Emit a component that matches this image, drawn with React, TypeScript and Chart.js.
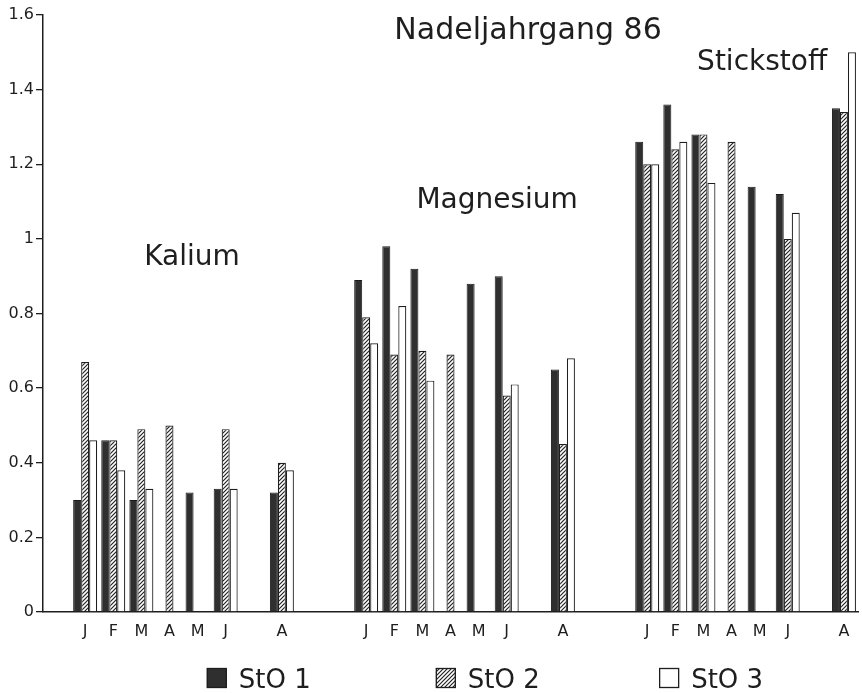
import React, { useEffect, useRef } from 'react';
import { Chart, registerables } from 'chart.js';

Chart.register(...registerables);

// Months Jan..Aug; '' = July (no sampling)
const MONTHS = ['J', 'F', 'M', 'A', 'M', 'J', '', 'A'];

const kaliumSto1 = [0.30, 0.46, 0.30, null, 0.32, 0.33, null, 0.32];
const kaliumSto2 = [0.67, 0.46, 0.49, 0.50, null, 0.49, null, 0.40];
const kaliumSto3 = [0.46, 0.38, 0.33, null, null, 0.33, null, 0.38];

const magnesiumSto1 = [0.89, 0.98, 0.92, null, 0.88, 0.90, null, 0.65];
const magnesiumSto2 = [0.79, 0.69, 0.70, 0.69, null, 0.58, null, 0.45];
const magnesiumSto3 = [0.72, 0.82, 0.62, null, null, 0.61, null, 0.68];

const stickstoffSto1 = [1.26, 1.36, 1.28, null, 1.14, 1.12, null, 1.35];
const stickstoffSto2 = [1.20, 1.24, 1.28, 1.26, null, 1.00, null, 1.34];
const stickstoffSto3 = [1.20, 1.26, 1.15, null, null, 1.07, null, 1.50];

const SERIES_NAMES = ['StO 1', 'StO 2', 'StO 3'];
const Y_MIN = 0;
const Y_MAX = 1.6;
const Y_STEP = 0.2;

const TITLE = 'Nadeljahrgang 86';
const GROUP_NAMES = ['Kalium', 'Magnesium', 'Stickstoff'];

const FONT = '"DejaVu Sans", "Liberation Sans", sans-serif';
const INK = '#1e1e1e';

function joinGroups<T>(a: T[], b: T[], c: T[], blank: T): T[] {
  return [blank, ...a, blank, blank, ...b, blank, blank, ...c];
}

const LABELS = joinGroups(MONTHS, MONTHS, MONTHS, '');

function makeHatch(): CanvasPattern | string {
  const c = document.createElement('canvas');
  const s = 4;
  c.width = s;
  c.height = s;
  const g = c.getContext('2d');
  if (!g) return '#888';
  g.fillStyle = '#ffffff';
  g.fillRect(0, 0, s, s);
  g.strokeStyle = '#222';
  g.lineWidth = 1.2;
  g.beginPath();
  g.moveTo(-1, s + 1);
  g.lineTo(s + 1, -1);
  g.moveTo(-1, 1);
  g.lineTo(1, -1);
  g.moveTo(s - 1, s + 1);
  g.lineTo(s + 1, s - 1);
  g.stroke();
  const p = g.createPattern(c, 'repeat');
  return p || '#888';
}

export default function App() {
  const ref = useRef<HTMLCanvasElement | null>(null);

  useEffect(() => {
    if (!ref.current) return;
    const hatch = makeHatch();

    const annotations = [
      { text: TITLE, at: 16.76, value: 1.536, size: 30 },
      { text: GROUP_NAMES[0], at: 4.8, value: 0.93, size: 28 },
      { text: GROUP_NAMES[1], at: 15.66, value: 1.083, size: 28 },
      { text: GROUP_NAMES[2], at: 25.09, value: 1.453, size: 28 },
    ];

    const textPlugin = {
      id: 'groupTexts',
      afterDraw(chart: any) {
        const { ctx } = chart;
        const xs = chart.scales.x;
        const ys = chart.scales.y;
        ctx.save();
        ctx.fillStyle = INK;
        ctx.textAlign = 'center';
        ctx.textBaseline = 'alphabetic';
        annotations.forEach((a) => {
          ctx.font = `${a.size}px ${FONT}`;
          ctx.fillText(a.text, xs.getPixelForValue(a.at), ys.getPixelForValue(a.value));
        });
        ctx.restore();
      },
    };

    const legendFractions = [0.201, 0.482, 0.756];
    const legendPlugin = {
      id: 'bottomLegend',
      afterDraw(chart: any) {
        const { ctx, chartArea } = chart;
        const box = 20;
        const top = chart.height - 25;
        ctx.save();
        ctx.font = `26px ${FONT}`;
        ctx.textBaseline = 'alphabetic';
        ctx.textAlign = 'left';
        chart.data.datasets.forEach((ds: any, i: number) => {
          const x = chartArea.left + legendFractions[i] * (chartArea.right - chartArea.left);
          ctx.fillStyle = ds.backgroundColor;
          ctx.fillRect(x, top, box, box);
          ctx.strokeStyle = INK;
          ctx.lineWidth = 1.3;
          ctx.strokeRect(x + 0.5, top + 0.5, box - 1, box - 1);
          ctx.fillStyle = INK;
          ctx.fillText(ds.label, x + box + 12, top + box);
        });
        ctx.restore();
      },
    };

    const chart = new Chart(ref.current, {
      type: 'bar',
      data: {
        labels: LABELS,
        datasets: [
          {
            label: SERIES_NAMES[0],
            data: joinGroups(kaliumSto1, magnesiumSto1, stickstoffSto1, null),
            backgroundColor: '#2f2f2f',
            borderColor: '#1a1a1a',
            borderWidth: 1,
          },
          {
            label: SERIES_NAMES[1],
            data: joinGroups(kaliumSto2, magnesiumSto2, stickstoffSto2, null),
            backgroundColor: hatch as any,
            borderColor: INK,
            borderWidth: 1.2,
          },
          {
            label: SERIES_NAMES[2],
            data: joinGroups(kaliumSto3, magnesiumSto3, stickstoffSto3, null),
            backgroundColor: '#ffffff',
            borderColor: INK,
            borderWidth: 1.2,
          },
        ],
      },
      options: {
        responsive: false,
        animation: false,
        devicePixelRatio: 1,
        layout: { padding: { top: 15, right: 4, left: 0, bottom: 0 } },
        datasets: {
          bar: {
            categoryPercentage: 0.854,
            barPercentage: 1,
            borderSkipped: 'start',
          },
        },
        plugins: {
          legend: { display: false },
          tooltip: { enabled: false },
          title: { display: false },
        },
        scales: {
          x: {
            type: 'category',
            offset: true,
            grid: { display: false, drawTicks: false },
            border: { display: true, color: INK, width: 1.5 },
            ticks: {
              autoSkip: false,
              maxRotation: 0,
              minRotation: 0,
              padding: 10,
              color: INK,
              font: { family: FONT, size: 16 },
            },
            afterFit(scale: any) {
              scale.height = 81;
            },
          },
          y: {
            min: Y_MIN,
            max: Y_MAX,
            ticks: {
              stepSize: Y_STEP,
              padding: 2,
              color: INK,
              font: { family: FONT, size: 16 },
              callback: (value: any) => String(Number(Number(value).toFixed(1))),
            },
            grid: {
              display: true,
              drawOnChartArea: false,
              drawTicks: true,
              tickLength: 7,
              color: INK,
              lineWidth: 1.3,
            },
            border: { display: true, color: INK, width: 1.5 },
            afterFit(scale: any) {
              scale.width = 43;
            },
          },
        },
      },
      plugins: [textPlugin, legendPlugin],
    });

    return () => chart.destroy();
  }, []);

  return (
    <div
      style={{
        position: 'fixed',
        left: 0,
        top: 0,
        width: 862,
        height: 693,
        background: '#ffffff',
      }}
    >
      <canvas ref={ref} width={862} height={693} style={{ display: 'block' }} />
    </div>
  );
}
